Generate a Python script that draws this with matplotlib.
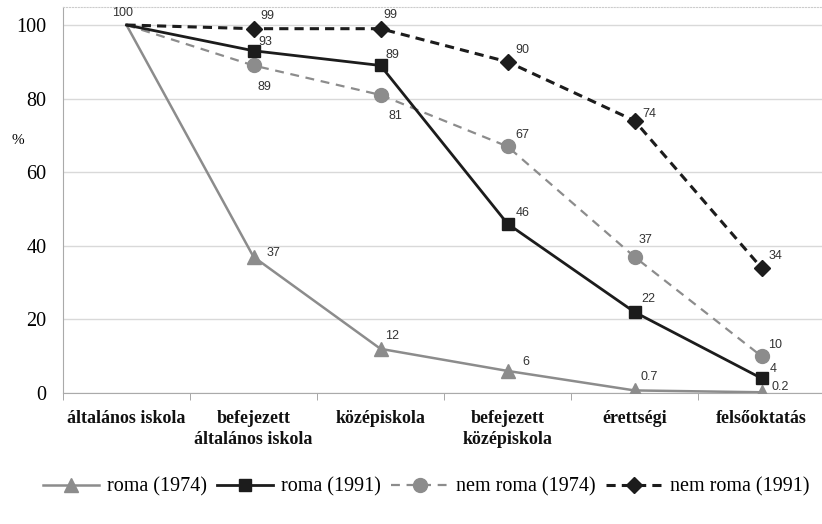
import numpy as np
import matplotlib.pyplot as plt

categories = ["általános iskola", "befejezett\náltalános iskola", "középiskola",
              "befejezett\nközépiskola", "érettségi", "felsőoktatás"]
roma_1974 = [100, 37, 12, 6, 0.7, 0.2]
roma_1991 = [100, 93, 89, 46, 22, 4]
nemroma_1974 = [100, 89, 81, 67, 37, 10]
nemroma_1991 = [100, 99, 99, 90, 74, 34]
label_1974 = ["", "37", "12", "6", "0.7", "0.2"]
label_1991 = ["", "93", "89", "46", "22", "4"]
label_n1974 = ["", "89", "81", "67", "37", "10"]
label_n1991 = ["100", "99", "99", "90", "74", "34"]

# label offsets in pixels (dx, dy) relative to each point
off_1974 = [None, (13, 4), (5, 13), (15, 9), (6, 13), (10, 5)]
off_1991 = [None, (5, 9), (5, 10), (8, 11), (7, 13), (8, 9)]
off_n1974 = [None, (4, -22), (8, -21), (8, 11), (4, 17), (7, 11)]
off_n1991 = [(-14, 12), (7, 13), (3, 14), (8, 12), (8, 7), (7, 12)]

gray = "#8c8c8c"
black = "#1c1c1c"

fig = plt.figure(figsize=(8.22, 5.24), dpi=100)
ax = fig.add_axes([63 / 822, 1 - 393 / 524, 762 / 822, 386.4 / 524])
x = np.arange(len(categories))

ax.plot(x, roma_1974, color=gray, lw=1.8, marker="^", ms=10, markevery=list(range(1, 6)),
        label="roma (1974)", zorder=3)
ax.plot(x, roma_1991, color=black, lw=2.0, marker="s", ms=8, markevery=list(range(1, 6)),
        label="roma (1991)", zorder=4)
ax.plot(x, nemroma_1974, color=gray, lw=1.6, ls=(0, (4, 3)), marker="o", ms=10,
        markevery=list(range(1, 6)), label="nem roma (1974)", zorder=3)
ax.plot(x, nemroma_1991, color=black, lw=2.2, ls=(0, (3, 2)), marker="D", ms=8,
        markevery=list(range(1, 6)), label="nem roma (1991)", zorder=5)

for vals, labs, offs in [(roma_1974, label_1974, off_1974), (roma_1991, label_1991, off_1991),
                         (nemroma_1974, label_n1974, off_n1974), (nemroma_1991, label_n1991, off_n1991)]:
    for i, (v, t, o) in enumerate(zip(vals, labs, offs)):
        if t:
            ax.annotate(t, (x[i], v), xytext=o, textcoords="offset pixels",
                        ha="left", va="center", fontsize=9, color="#333333",
                        family="Liberation Sans")

ax.set_xlim(-0.5, 5.5)
ax.set_ylim(0, 105)
ax.set_yticks([0, 20, 40, 60, 80, 100])
ax.yaxis.grid(True, color="#d9d9d9", lw=1)
ax.set_axisbelow(True)
ax.tick_params(axis="y", length=0, labelsize=14.5, pad=12)
for t in ax.get_yticklabels():
    t.set_family("Liberation Serif")
ax.set_xticks(x)
ax.set_xticklabels(categories, fontsize=13, family="Liberation Serif", fontweight="bold",
                   color="#111111", linespacing=1.3)
ax.set_xticks(np.arange(-0.5, 6, 1), minor=True)
ax.tick_params(axis="x", which="major", length=0, pad=12)
ax.tick_params(axis="x", which="minor", length=5, color="#999999")
ax.spines["right"].set_visible(False)
ax.spines["top"].set_color("#cccccc")
ax.spines["top"].set_linestyle(":")
ax.spines["left"].set_color("#aaaaaa")
ax.spines["bottom"].set_color("#aaaaaa")

fig.text(18 / 822, 1 - 141 / 524, "%", fontsize=11, family="Liberation Serif", ha="center", va="center")

fig.legend(loc="center", bbox_to_anchor=(426 / 822, 1 - 487 / 524), ncol=4, frameon=False,
           prop={"family": "Liberation Serif", "size": 14.5}, handlelength=2.8,
           columnspacing=0.5, handletextpad=0.4)

fig.savefig("out.png", dpi=100)
